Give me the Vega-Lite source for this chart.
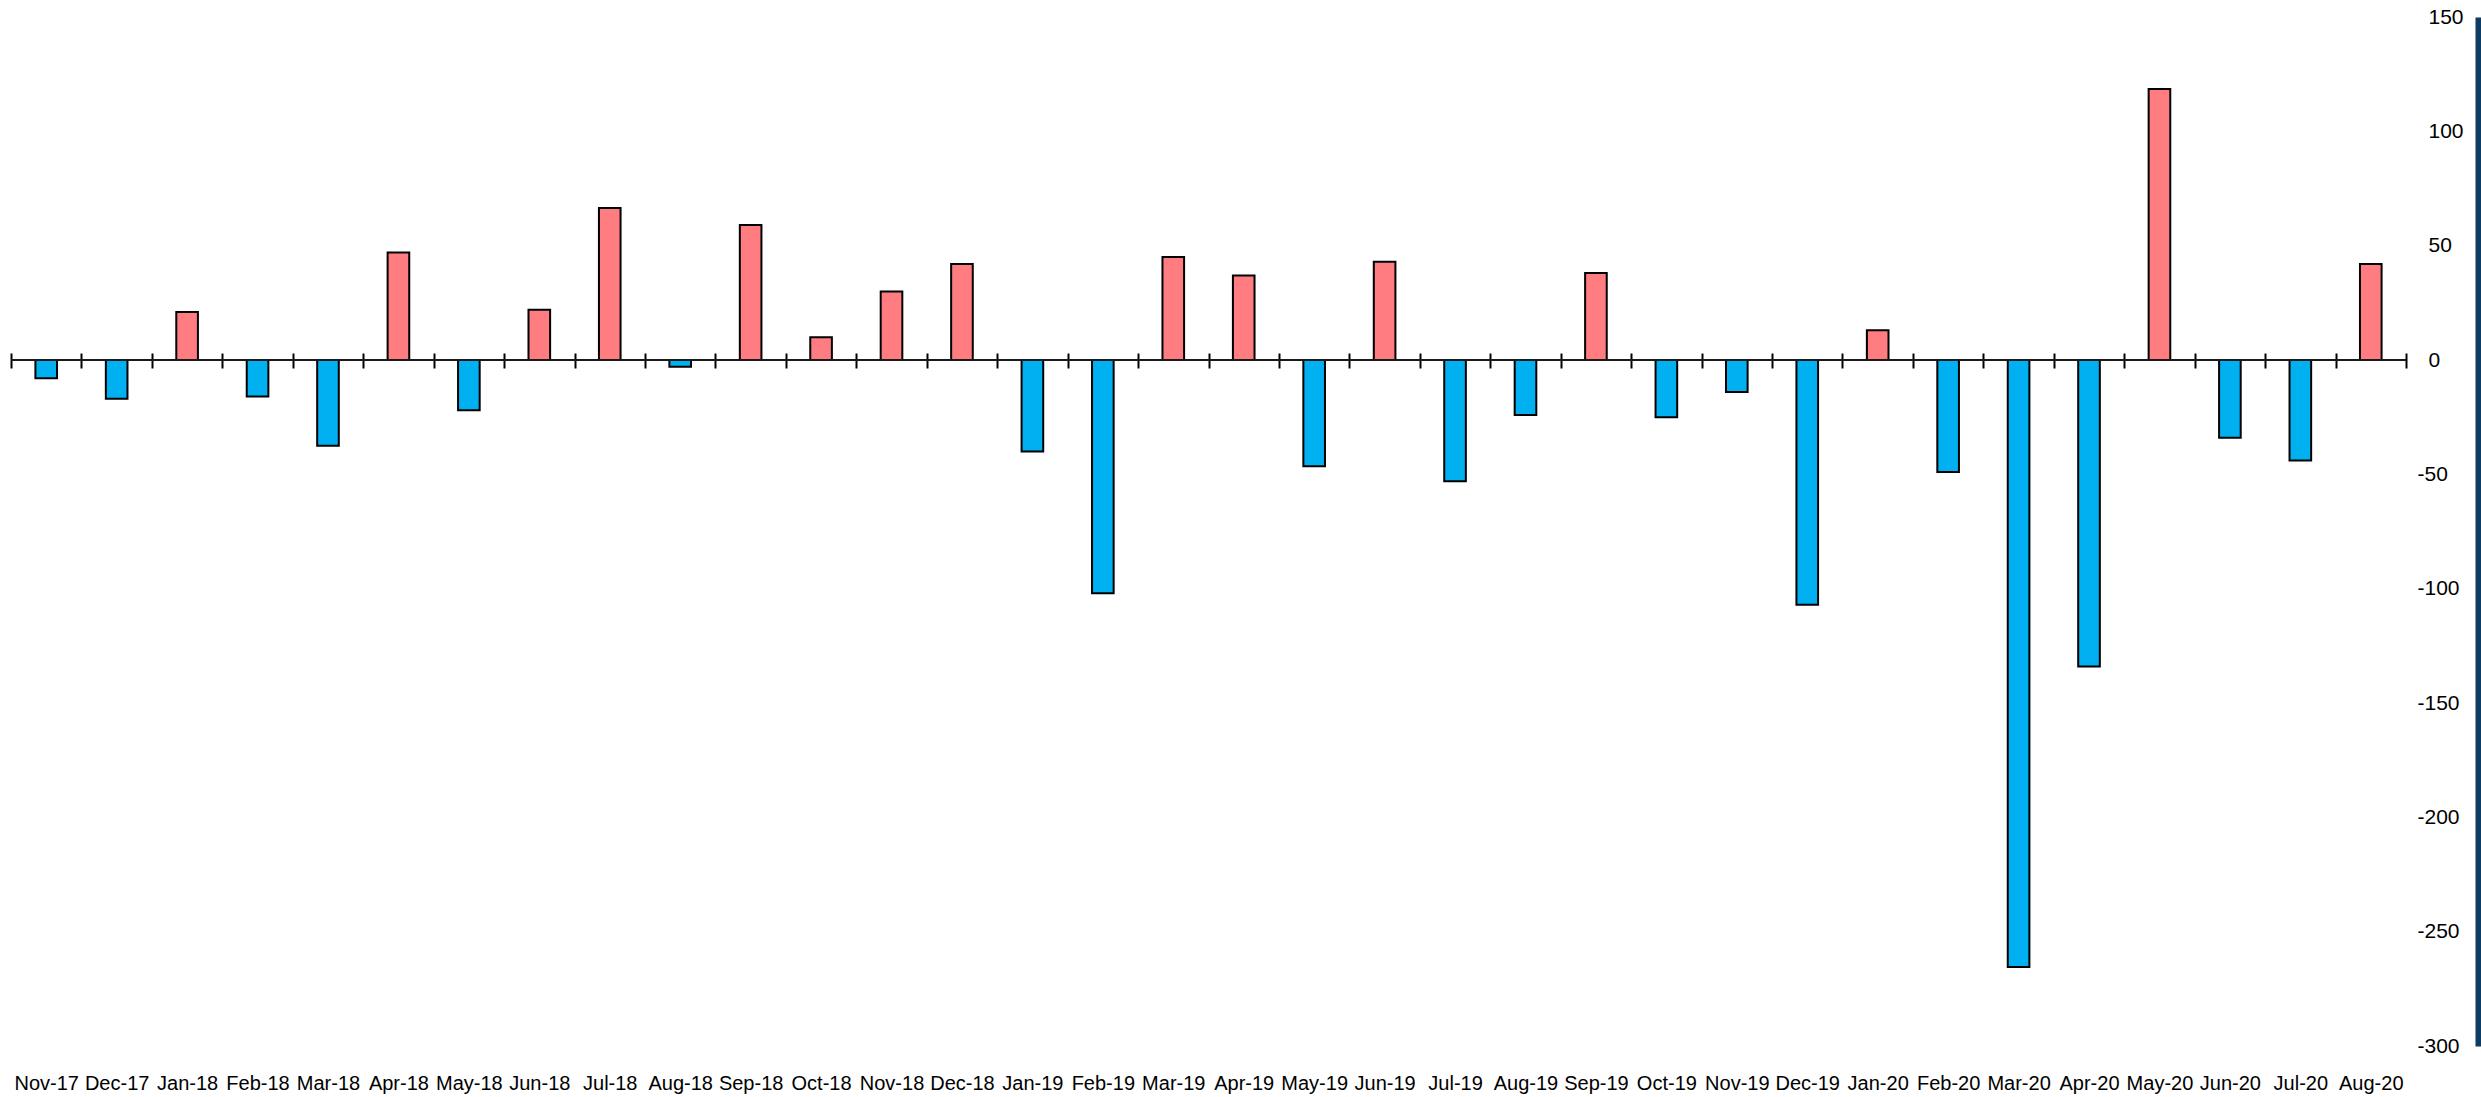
{
  "$schema": "https://vega.github.io/schema/vega-lite/v6.json",
  "width": 2395,
  "height": 1029,
  "autosize": {"type": "none"},
  "padding": {"left": 11, "top": 17, "right": 75, "bottom": 51},
  "background": "white",
  "config": {"view": {"stroke": null}, "font": "Liberation Sans"},
  "data": {
    "values": [
      {"month": "Nov-17", "value": -8},
      {"month": "Dec-17", "value": -17},
      {"month": "Jan-18", "value": 21},
      {"month": "Feb-18", "value": -16},
      {"month": "Mar-18", "value": -37.5},
      {"month": "Apr-18", "value": 47},
      {"month": "May-18", "value": -22},
      {"month": "Jun-18", "value": 22},
      {"month": "Jul-18", "value": 66.5},
      {"month": "Aug-18", "value": -3},
      {"month": "Sep-18", "value": 59},
      {"month": "Oct-18", "value": 10},
      {"month": "Nov-18", "value": 30},
      {"month": "Dec-18", "value": 42},
      {"month": "Jan-19", "value": -40},
      {"month": "Feb-19", "value": -102},
      {"month": "Mar-19", "value": 45},
      {"month": "Apr-19", "value": 37},
      {"month": "May-19", "value": -46.5},
      {"month": "Jun-19", "value": 43},
      {"month": "Jul-19", "value": -53},
      {"month": "Aug-19", "value": -24},
      {"month": "Sep-19", "value": 38},
      {"month": "Oct-19", "value": -25},
      {"month": "Nov-19", "value": -14},
      {"month": "Dec-19", "value": -107},
      {"month": "Jan-20", "value": 13},
      {"month": "Feb-20", "value": -49},
      {"month": "Mar-20", "value": -265.5},
      {"month": "Apr-20", "value": -134},
      {"month": "May-20", "value": 118.5},
      {"month": "Jun-20", "value": -34},
      {"month": "Jul-20", "value": -44},
      {"month": "Aug-20", "value": 42}
    ]
  },
  "layer": [
    {
      "mark": {"type": "bar", "width": {"band": 0.307}, "stroke": "black", "strokeWidth": 2},
      "encoding": {
        "x": {
          "field": "month",
          "type": "nominal",
          "sort": null,
          "scale": {"paddingInner": 0, "paddingOuter": 0},
          "axis": {
            "title": null,
            "orient": "bottom",
            "offset": -693,
            "domain": false,
            "grid": false,
            "ticks": true,
            "tickBand": "extent",
            "tickSize": 15,
            "tickWidth": 2,
            "tickColor": "black",
            "labelPadding": 721,
            "labelBaseline": "alphabetic",
            "labelFontSize": 20,
            "labelColor": "black",
            "labelAngle": 0,
            "labelOverlap": false
          }
        },
        "y": {
          "field": "value",
          "type": "quantitative",
          "scale": {"domain": [-300, 150], "nice": false},
          "axis": {
            "title": null,
            "orient": "right",
            "values": [-300, -250, -200, -150, -100, -50, 0, 50, 100, 150],
            "grid": false,
            "ticks": false,
            "tickSize": 0,
            "domain": true,
            "domainColor": "#0D3B62",
            "domainWidth": 6,
            "offset": 72,
            "labelAlign": "left",
            "labelBaseline": "middle",
            "labelFontSize": 21,
            "labelColor": "black",
            "labelExpr": "'' + datum.value",
            "labelPadding": {"condition": {"test": "datum.value < 0", "value": -61}, "value": -50}
          }
        },
        "color": {"condition": {"test": "datum.value < 0", "value": "#00B0F0"}, "value": "#FF7C80"}
      }
    },
    {
      "mark": {"type": "rule", "color": "#1a1a1a", "strokeWidth": 2},
      "encoding": {"y": {"datum": 0}}
    }
  ]
}
